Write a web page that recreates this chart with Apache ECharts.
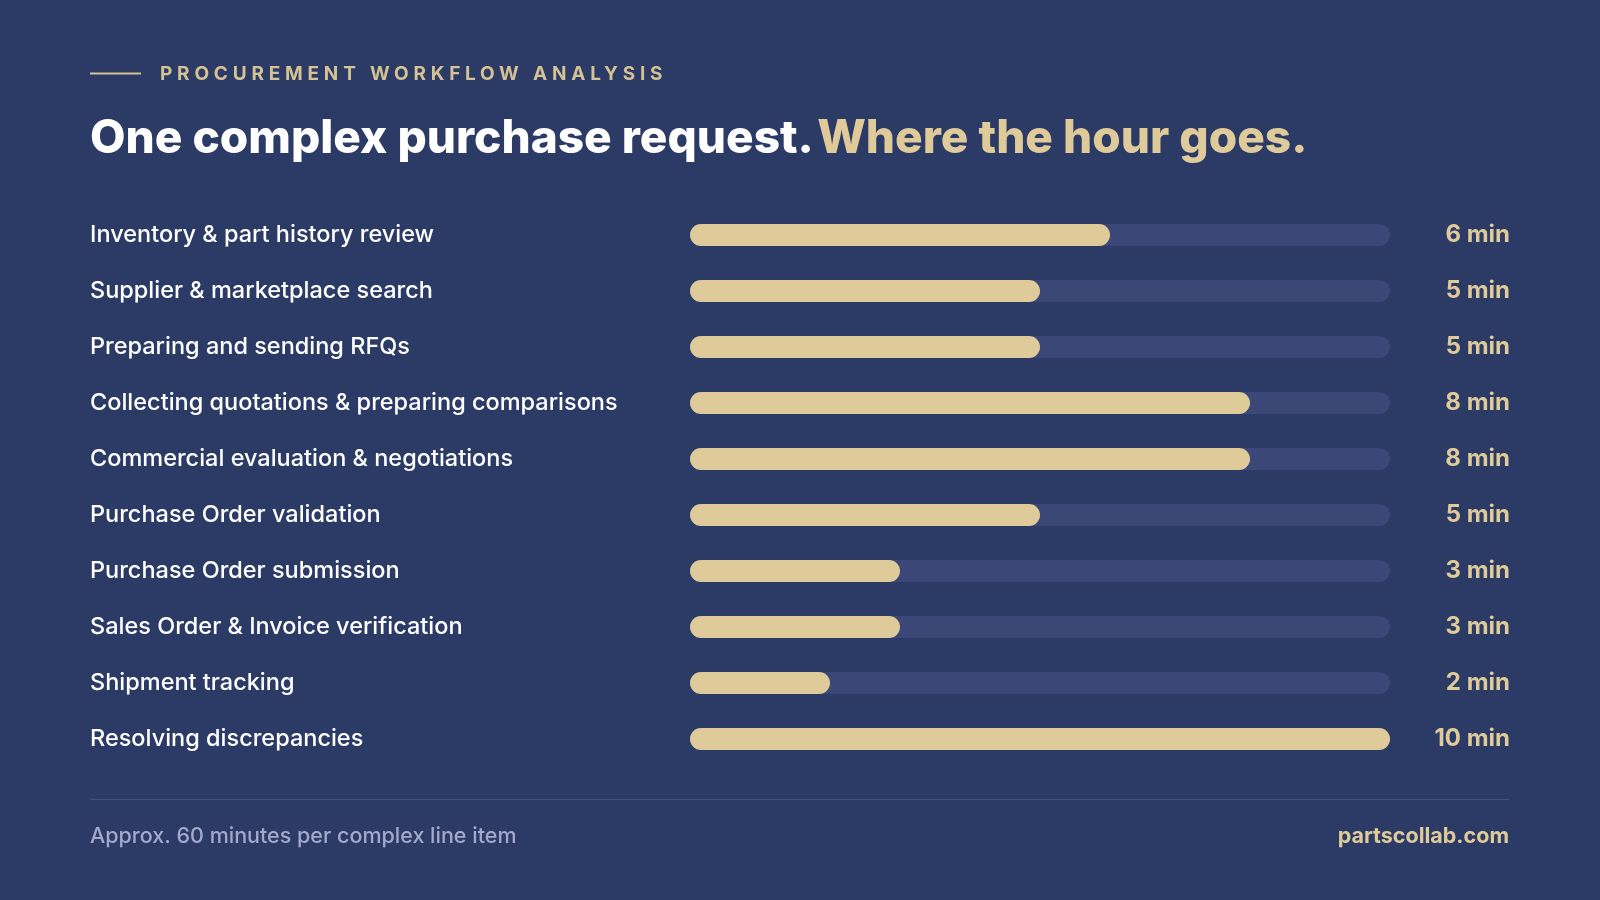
<!DOCTYPE html>
<html>
<head>
<meta charset="utf-8">
<script src="https://cdn.jsdelivr.net/npm/echarts@6/dist/echarts.min.js"></script>
<style>
html,body{margin:0;padding:0;background:#2c3a66;}
#c{width:1600px;height:900px;}
</style>
</head>
<body>
<div id="c"></div>
<script>
const categories = [
  'Inventory & part history review',
  'Supplier & marketplace search',
  'Preparing and sending RFQs',
  'Collecting quotations & preparing comparisons',
  'Commercial evaluation & negotiations',
  'Purchase Order validation',
  'Purchase Order submission',
  'Sales Order & Invoice verification',
  'Shipment tracking',
  'Resolving discrepancies'
];
const minutes = [6, 5, 5, 8, 8, 5, 3, 3, 2, 10];
const valueLabels = minutes.map(v => v + ' min');
const eyebrow = 'PROCUREMENT WORKFLOW ANALYSIS';
const titleWhite = 'One complex purchase request.';
const titleGold = 'Where the hour goes.';
const footnote = 'Approx. 60 minutes per complex line item';
const brand = 'partscollab.com';

const FONT = 'Inter, "Noto Sans", sans-serif';
const GOLD = '#dfca99';
const BG = '#2c3a66';
const TRACK = '#3b4877';

const chart = echarts.init(document.getElementById('c'), null, {renderer: 'canvas'});
chart.setOption({
  backgroundColor: BG,
  animation: false,
  grid: {left: 690, right: 210, top: 207, bottom: 133, containLabel: false},
  xAxis: {type: 'value', min: 0, max: 10, show: false},
  yAxis: [
    {
      type: 'category', data: categories, inverse: true,
      axisLine: {show: false}, axisTick: {show: false}, splitLine: {show: false},
      axisLabel: {align: 'left', margin: 600, color: '#ffffff', fontSize: 23.5, fontWeight: 500, fontFamily: FONT}
    },
    {
      type: 'category', data: valueLabels, inverse: true, position: 'right',
      axisLine: {show: false}, axisTick: {show: false}, splitLine: {show: false},
      axisLabel: {align: 'right', margin: 120, color: GOLD, fontSize: 24, fontWeight: 700, fontFamily: FONT}
    }
  ],
  series: [{
    type: 'bar', data: minutes, yAxisIndex: 0, barWidth: 22,
    itemStyle: {color: GOLD, borderRadius: 11},
    showBackground: true,
    backgroundStyle: {color: TRACK, borderRadius: 11}
  }],
  graphic: [
    {type: 'rect', shape: {x: 90, y: 72.5, width: 51, height: 2}, style: {fill: '#d4c194'}},
    {type: 'text', left: 160, top: 65, zlevel: 1,
     style: {text: eyebrow, fill: '#d4c194', font: '700 19px ' + FONT}},
    {type: 'text', left: 90, top: 116,
     style: {
       text: '{a|' + titleWhite + '} {b|' + titleGold + '}',
       rich: {
         a: {fill: '#ffffff', font: '800 46px ' + FONT},
         b: {fill: GOLD, font: '800 46px ' + FONT}
       }
     }},
    {type: 'rect', shape: {x: 90, y: 799, width: 1419, height: 1}, style: {fill: '#44517f'}},
    {type: 'text', left: 90, top: 826,
     style: {text: footnote, fill: '#a2aacb', font: '500 21.5px ' + FONT}},
    {type: 'text', right: 91, top: 826,
     style: {text: brand, fill: GOLD, font: '700 21.5px ' + FONT}}
  ]
});
try {
  const painter = chart.getZr().painter;
  const layer = painter.getLayer(1);
  if (layer && layer.ctx && 'letterSpacing' in layer.ctx) {
    layer.ctx.letterSpacing = '4.8px';
    painter.refresh(true);
  }
} catch (e) {}
</script>
</body>
</html>
